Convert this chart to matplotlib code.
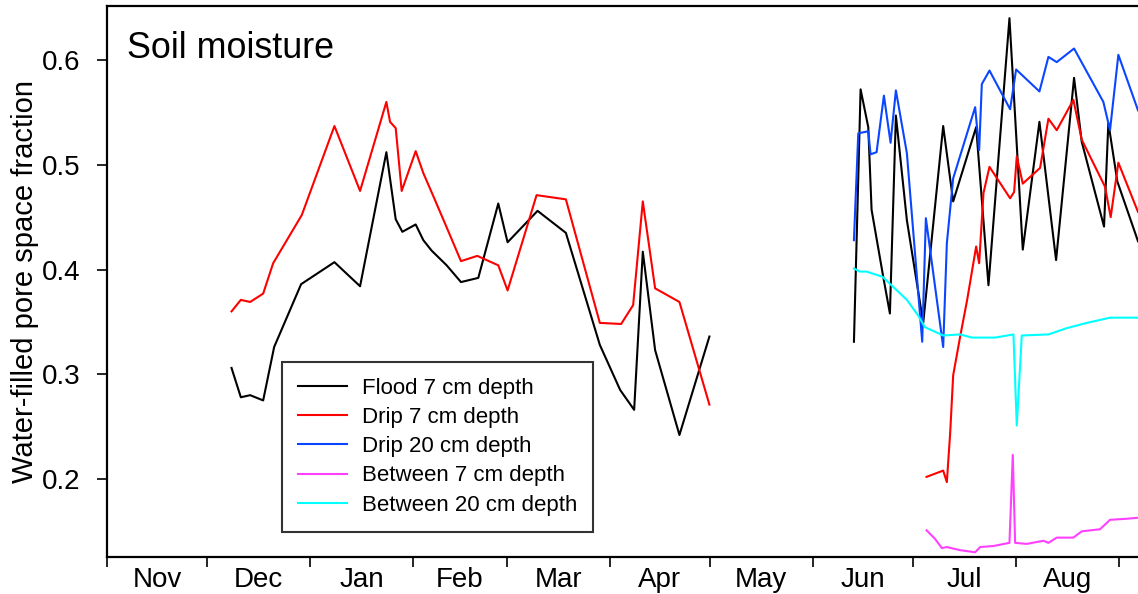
import matplotlib.pyplot as plt
import numpy as np

plt.rcParams['font.family'] = ['Liberation Sans', 'DejaVu Sans']

# x = days counted from 1 November
month_names = ['Nov', 'Dec', 'Jan', 'Feb', 'Mar', 'Apr', 'May', 'Jun', 'Jul', 'Aug']
month_lengths = [30, 31, 31, 28, 31, 30, 31, 30, 31, 31]

flood7_days = [37.4, 40.2, 43.0, 46.9, 50.2, 58.3, 68.3, 76.0, 83.9, 86.7,
               88.7, 92.7, 95.0, 97.5, 102.0, 106.3, 111.5, 117.5, 120.3, 129.3,
               137.8, 148.0, 154.1, 158.3, 160.9, 164.6, 171.9, 180.9, np.nan,
               224.3, 226.3, 228.6, 229.6, 233.1, 235.1, 236.9, 240.2, 245.1, 251.1,
               254.1, 261.0, 264.7, 271.0, 275.0, 280.0, 285.0, 290.4, 292.7, 299.4,
               300.7, 303.4, 309.6]
flood7 = [0.306, 0.278, 0.280, 0.275, 0.326, 0.386, 0.407, 0.384, 0.512, 0.448,
          0.436, 0.443, 0.428, 0.418, 0.404, 0.388, 0.392, 0.463, 0.426, 0.456,
          0.435, 0.328, 0.285, 0.266, 0.417, 0.323, 0.242, 0.336, np.nan,
          0.331, 0.572, 0.536, 0.457, 0.393, 0.358, 0.547, 0.447, 0.349, 0.537,
          0.465, 0.536, 0.385, 0.640, 0.419, 0.541, 0.409, 0.583, 0.522, 0.441,
          0.540, 0.484, 0.427]

drip7_days = [37.4, 40.2, 43.0, 46.9, 49.9, 58.5, 68.3, 76.0, 83.9, 85.0,
              86.7, 88.5, 92.7, 95.0, 98.0, 101.5, 106.3, 111.2, 117.5, 120.3,
              129.0, 137.8, 148.0, 154.4, 158.0, 160.9, 164.6, 171.9, 180.9, np.nan,
              246.1, 251.1, 252.2, 253.2, 254.1, 256.2, 258.3, 261.0, 261.9, 263.2,
              265.0, 271.2, 272.4, 273.2, 275.0, 280.2, 282.7, 285.2, 290.2, 292.7,
              299.7, 301.4, 303.7, 309.6]
drip7 = [0.360, 0.371, 0.369, 0.377, 0.406, 0.452, 0.537, 0.475, 0.560, 0.541,
         0.535, 0.475, 0.513, 0.492, 0.470, 0.444, 0.408, 0.413, 0.404, 0.380,
         0.471, 0.467, 0.349, 0.348, 0.366, 0.465, 0.382, 0.369, 0.271, np.nan,
         0.202, 0.208, 0.197, 0.244, 0.299, 0.336, 0.371, 0.422, 0.406, 0.473,
         0.498, 0.468, 0.474, 0.508, 0.482, 0.497, 0.544, 0.533, 0.562, 0.524,
         0.479, 0.450, 0.502, 0.455]

drip20_days = [224.3, 225.6, 228.6, 229.3, 231.1, 233.3, 235.3, 236.9, 240.2, 244.8,
               245.9, 251.1, 252.2, 254.1, 260.7, 261.9, 262.7, 265.0, 271.2, 273.0,
               280.0, 282.7, 285.2, 290.4, 299.2, 301.2, 303.7, 309.6]
drip20 = [0.428, 0.530, 0.532, 0.510, 0.512, 0.566, 0.521, 0.571, 0.511, 0.331,
          0.449, 0.326, 0.425, 0.487, 0.555, 0.514, 0.577, 0.590, 0.553, 0.591,
          0.570, 0.603, 0.598, 0.611, 0.560, 0.533, 0.605, 0.552]

between7_days = [246.1, 248.6, 250.7, 252.2, 256.2, 260.7, 262.2, 266.2, 271.0, 272.0,
                 272.7, 276.2, 281.2, 282.7, 285.2, 290.2, 292.7, 298.2, 301.2, 306.2,
                 309.6]
between7 = [0.151, 0.143, 0.134, 0.135, 0.132, 0.130, 0.135, 0.136, 0.139, 0.223,
            0.139, 0.138, 0.141, 0.139, 0.144, 0.144, 0.150, 0.152, 0.161, 0.162,
            0.163]

between20_days = [224.3, 226.1, 228.1, 232.9, 240.2, 243.6, 245.6, 251.1, 256.2, 259.7,
                  266.7, 272.2, 273.2, 274.7, 282.7, 288.2, 294.2, 301.2, 309.6]
between20 = [0.401, 0.398, 0.398, 0.393, 0.371, 0.356, 0.345, 0.337, 0.338, 0.335,
             0.335, 0.338, 0.251, 0.337, 0.338, 0.344, 0.349, 0.354, 0.354]

fig = plt.figure(figsize=(11.38, 5.94), dpi=100)
ax = fig.add_axes([0.094, 0.0623, 0.906, 0.9276])

lw = 1.5
ax.plot(flood7_days, flood7, color='black', lw=lw, label='Flood 7 cm depth')
ax.plot(drip7_days, drip7, color='#ff0000', lw=lw, label='Drip 7 cm depth')
ax.plot(drip20_days, drip20, color='#0a46ff', lw=lw, label='Drip 20 cm depth')
ax.plot(between7_days, between7, color='#ff40ff', lw=lw, label='Between 7 cm depth')
ax.plot(between20_days, between20, color='#00ffff', lw=lw, label='Between 20 cm depth')

ax.set_xlim(0, 309.6)
ax.set_ylim(0.1255, 0.6516)

edges = np.concatenate([[0], np.cumsum(month_lengths)])
mids = edges[:-1] + np.array(month_lengths) / 2
ax.set_xticks(edges)
ax.set_xticklabels([])
ax.set_xticks(mids, minor=True)
ax.set_xticklabels(month_names, minor=True, fontsize=20)
ax.tick_params(axis='x', which='major', direction='out', length=7, width=1.2)
ax.tick_params(axis='x', which='minor', length=0, pad=7)

ax.set_yticks([0.2, 0.3, 0.4, 0.5, 0.6])
ax.set_yticklabels(['0.2', '0.3', '0.4', '0.5', '0.6'], fontsize=20)
ax.tick_params(axis='y', direction='out', length=7, width=1.2, pad=12)
ax.set_ylabel('Water-filled pore space fraction', fontsize=21, labelpad=2)

for side in ['left', 'bottom', 'top']:
    ax.spines[side].set_linewidth(1.6)
ax.spines['right'].set_visible(False)

ax.text(0.019, 0.906, 'Soil moisture', transform=ax.transAxes, fontsize=25.8,
        ha='left', va='baseline')

leg = ax.legend(loc='upper left', bbox_to_anchor=(0.2475, 0.391),
                bbox_transform=fig.transFigure, borderaxespad=0,
                fontsize=16, frameon=True, fancybox=False,
                handlelength=2.2, handletextpad=0.68, labelspacing=0.37,
                borderpad=0.72)
leg.get_frame().set_edgecolor('black')
leg.get_frame().set_linewidth(1.5)

fig.savefig('out.png', dpi=100)
